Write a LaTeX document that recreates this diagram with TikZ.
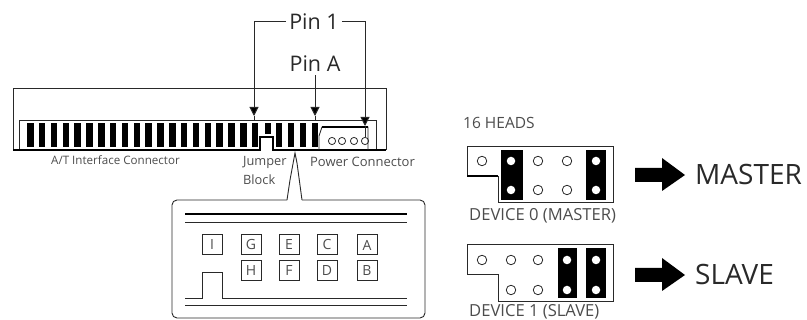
\documentclass[tikz,border=0pt]{standalone}
\usepackage{fontspec}
\setmainfont{Open Sans}
\usetikzlibrary{arrows.meta}
\definecolor{ink}{gray}{0.16}
\definecolor{soft}{gray}{0.30}
\newcommand{\fsz}[1]{\fontsize{#1}{#1}\selectfont}
\tikzset{
  ln/.style={draw=ink,line width=0.9pt},
  heavy/.style={draw=black,line width=1.3pt},
  lead/.style={draw=ink,line width=1pt,-{Triangle[length=9pt,width=9pt,fill=black]}},
  stub/.style={draw=ink,line width=1pt},
  smalltxt/.style={text=soft,font=\fsz{12},inner sep=0pt},
  devtxt/.style={text=soft,font=\fsz{16.6},inner sep=0pt},
  pintxt/.style={text=ink,font=\fsz{21.5},inner sep=3pt},
  bigtxt/.style={text=ink,font=\fsz{28},inner sep=0pt},
  bar/.style={fill=black,draw=none},
  keybox/.style={draw=ink,line width=1pt,minimum width=20pt,minimum height=20pt,inner sep=0pt,text=soft,font=\fsz{14}},
  pinhole/.style={draw=ink,line width=0.8pt,fill=white,circle,minimum size=9.5pt,inner sep=0pt},
  blackpin/.style={fill=white,draw=none,circle,minimum size=8.5pt,inner sep=0pt},
  fatarrow/.style={fill=black,draw=none}
}
\begin{document}
\begin{tikzpicture}[x=1pt,y=-1pt]
\useasboundingbox (0,0) rectangle (807,320);
% drive outline
\draw[ln] (13,150) -- (13,88) -- (386,88) -- (386,150);
\draw[ln] (19,150) -- (19,120) -- (376,120) -- (376,150);
\draw[heavy] (13,150) -- (260,150) -- (260,137) -- (273,137) -- (273,150) -- (386,150);
% connector pins
\foreach \k in {0,...,19}{
  \fill[bar] ({27+11.84*\k},123.5) rectangle ++(6.5,23.5);
}
\fill[bar] (264.5,123.5) rectangle ++(6.5,10.5);
\foreach \k in {0,...,3}{
  \fill[bar] ({275.5+12*\k},123.5) rectangle ++(6.5,23.5);
}
% power connector
\draw[ln] (319,150) -- (319,136) -- (322,127) -- (368,127) -- (368,150);
\draw[heavy] (322,127) -- (368,127);
\foreach \x in {332,342,354,365}{
  \draw[draw=ink,line width=0.8pt] (\x,141) circle (3.6pt);
}
% labels
\node[pintxt] (pin1) at (314,22) {Pin 1};
\node[pintxt] (pina) at (315,64) {Pin A};
\coordinate (pin1Ltip) at (254,116);
\coordinate (pin1L) at (254,121);
\coordinate (pin1Rtip) at (365,126);
\coordinate (pin1R) at (365,137);
\coordinate (pinAtip) at (315,116);
\coordinate (pinAe) at (315,121);
\draw[lead] (pin1.west) -| (pin1Ltip);
\draw[lead] (pin1.east) -| (pin1Rtip);
\draw[lead] (pina.south) -- (pinAtip);
\draw[stub] (pin1Ltip) -- (pin1L);
\draw[stub] (pin1Rtip) -- (pin1R);
\draw[stub] (pinAtip) -- (pinAe);
\node[smalltxt,font=\fsz{11.6}] (ata) at (115.5,160) {A/T Interface Connector};
\node[smalltxt,font=\fsz{12.8},anchor=west] (jb1) at (243,162) {Jumper};
\node[smalltxt,font=\fsz{12.8},anchor=west] (jb2) at (243,180) {Block};
\node[smalltxt,font=\fsz{13}] (pw) at (362.5,162) {Power Connector};
% detail callout
\draw[ln,rounded corners=5pt] (287,200) -- (172,200) -- (172,318) -- (425,318) -- (425,200) -- (302,200);
\draw[ln] (287,200) -- (290,180) -- (295,153) -- (297,163) -- (302,200);
\draw[heavy] (185,214) -- (407,214);
\draw[ln] (185,222) -- (407,222);
\draw[ln] (185,298) -- (202,298) -- (202,272) -- (222,272) -- (222,298) -- (407,298);
\draw[ln] (185,305) -- (407,305);
\node[keybox] (kI) at (212,245) {I};
\node[keybox] (kG) at (251,245) {G};
\node[keybox] (kE) at (289,245) {E};
\node[keybox] (kC) at (327,245) {C};
\node[keybox] (kA) at (367,245) {A};
\node[keybox] (kH) at (251,271) {H};
\node[keybox] (kF) at (289,271) {F};
\node[keybox] (kD) at (327,271) {D};
\node[keybox] (kB) at (367,271) {B};
% device 0
\node[devtxt,font=\fsz{15.5},anchor=west] (heads) at (463,122.5) {16 HEADS};
\draw[ln] (467,176) -- (467,146) -- (613,146) -- (613,202) -- (498,202) -- (498,176) -- cycle;
\draw[heavy] (467,176) -- (498,176);
\fill[bar] (501,150) rectangle (523,200);
\fill[bar] (586,150) rectangle (606,200);
\node[pinhole] at (482,161) {};
\node[blackpin] at (511,161) {};
\node[pinhole] at (538,161) {};
\node[pinhole] at (567,161) {};
\node[blackpin] at (596,161) {};
\node[blackpin] at (511,190) {};
\node[pinhole] at (538,190) {};
\node[pinhole] at (567,190) {};
\node[blackpin] at (596,190) {};
\node[devtxt,anchor=west] (d0) at (469,216) {DEVICE 0 (MASTER)};
\fill[fatarrow] (635,168) -- (662,168) -- (662,158) -- (685,175) -- (662,191) -- (662,182) -- (635,182) -- cycle;
\node[bigtxt,anchor=west] (mas) at (695,175) {MASTER};
% device 1
\draw[ln] (467,274) -- (467,244) -- (613,244) -- (613,301) -- (498,301) -- (498,274) -- cycle;
\fill[bar] (558,248) rectangle (577,298);
\fill[bar] (586,248) rectangle (606,298);
\node[pinhole] at (482,260) {};
\node[pinhole] at (511,260) {};
\node[pinhole] at (538,260) {};
\node[blackpin] at (567,260) {};
\node[blackpin] at (596,260) {};
\node[pinhole] at (511,290) {};
\node[pinhole] at (538,290) {};
\node[blackpin] at (567,290) {};
\node[blackpin] at (596,290) {};
\node[devtxt,anchor=west] (d1) at (469,311.5) {DEVICE 1 (SLAVE)};
\fill[fatarrow] (635,268) -- (662,268) -- (662,258) -- (685,275) -- (662,291) -- (662,282) -- (635,282) -- cycle;
\node[bigtxt,anchor=west] (sla) at (695,275) {SLAVE};
\end{tikzpicture}
\end{document}
